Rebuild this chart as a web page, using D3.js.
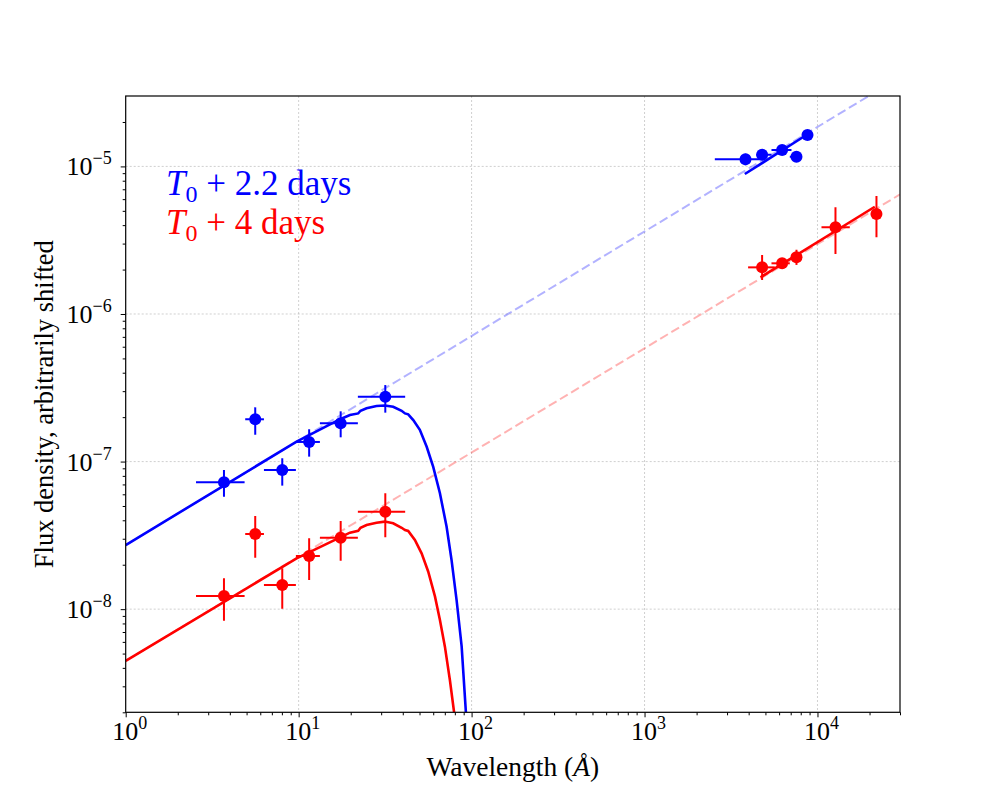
<!DOCTYPE html>
<html>
<head>
<meta charset="utf-8">
<script src="https://cdn.jsdelivr.net/npm/d3@7"></script>
<style>
  body { margin: 0; background: #fff; }
  text { font-family: "Liberation Serif", "DejaVu Serif", serif; fill: #000; }
</style>
</head>
<body>
<svg id="chart" width="1000" height="800"></svg>
<script>
// observed points, T0 + 2.2 days
const blueLam    = [3.70, 5.61, 8.04, 11.5, 17.5, 31.7, 3835, 4784, 6244, 7560, 8754];
const blueLamLo  = [2.55, 4.91, 6.30, 9.64, 13.27, 22.0, 2549, 4440, 5420, 6916, 8754];
const blueLamHi  = [4.87, 6.30, 9.64, 13.27, 22.0, 41.3, 4640, 5420, 7073, 7900, 8754];
const blueFlux   = [7.24e-8, 1.934e-7, 8.77e-8, 1.358e-7, 1.817e-7, 2.75e-7, 1.117e-5, 1.20e-5, 1.29e-5, 1.164e-5, 1.633e-5];
const blueFluxLo = [5.78e-8, 1.52e-7, 6.87e-8, 1.08e-7, 1.46e-7, 2.145e-7, 1.02e-5, 1.17e-5, 1.27e-5, 1.15e-5, 1.60e-5];
const blueFluxHi = [8.77e-8, 2.33e-7, 1.053e-7, 1.656e-7, 2.19e-7, 3.30e-7, 1.22e-5, 1.23e-5, 1.31e-5, 1.18e-5, 1.66e-5];

// observed points, T0 + 4 days
const redLam    = [3.70, 5.61, 8.04, 11.5, 17.5, 31.7, 4784, 6244, 7560, 12706, 21930];
const redLamLo  = [2.55, 4.91, 6.30, 9.64, 13.27, 22.0, 3970, 5420, 7300, 10546, 20520];
const redLamHi  = [4.87, 6.30, 9.64, 13.27, 22.0, 41.3, 5665, 6916, 7800, 15373, 23440];
const redFlux   = [1.229e-8, 3.23e-8, 1.459e-8, 2.29e-8, 3.05e-8, 4.575e-8, 2.07e-6, 2.205e-6, 2.42e-6, 3.87e-6, 4.76e-6];
const redFluxLo = [8.36e-9, 2.23e-8, 1.008e-8, 1.577e-8, 2.13e-8, 3.07e-8, 1.70e-6, 2.11e-6, 2.15e-6, 2.55e-6, 3.31e-6];
const redFluxHi = [1.62e-8, 4.28e-8, 1.89e-8, 3.02e-8, 3.96e-8, 6.10e-8, 2.51e-6, 2.30e-6, 2.72e-6, 5.28e-6, 6.30e-6];

// model curves (X-ray side)
const blueModelLam  = [1, 9.73, 17.5, 19.8, 22.1, 22.8, 24.7, 28.2, 31.5, 35.2, 39.4, 41.2, 43.0, 46.0, 50.2, 55.0, 60.0, 65.6, 71.7, 76.6, 81.9, 87.6, 92.7, 96.6];
const blueModelFlux = [2.72e-8, 1.365e-7, 1.945e-7, 2.07e-7, 2.12e-7, 2.21e-7, 2.30e-7, 2.38e-7, 2.40e-7, 2.35e-7, 2.21e-7, 2.12e-7, 2.09e-7, 1.91e-7, 1.64e-7, 1.26e-7, 9.2e-8, 6.1e-8, 3.62e-8, 2.15e-8, 1.15e-8, 5.6e-9, 2.0e-9, 8e-10];
const redModelLam  = [1, 9.73, 17.5, 19.8, 22.1, 22.8, 24.7, 28.2, 31.5, 35.2, 39.4, 41.2, 43.0, 47.0, 51.4, 56.1, 61.4, 65.6, 70.1, 74.9, 79.3, 82.2];
const redModelFlux = [4.46e-9, 2.21e-8, 3.08e-8, 3.30e-8, 3.40e-8, 3.56e-8, 3.72e-8, 3.85e-8, 3.92e-8, 3.82e-8, 3.56e-8, 3.44e-8, 3.39e-8, 2.94e-8, 2.39e-8, 1.80e-8, 1.22e-8, 8.45e-9, 5.57e-9, 3.31e-9, 1.98e-9, 1.0e-9];

// model curves (optical side)
const blueOptLam  = [3800, 8446];
const blueOptFlux = [8.88e-6, 1.607e-5];
const redOptLam   = [4684, 21450];
const redOptFlux  = [1.773e-6, 5.33e-6];

// power-law extrapolations (dashed)
const blueDashLam  = [1, 3e4];
const blueDashFlux = [2.72e-8, 4.03e-5];
const redDashLam   = [1, 3e4];
const redDashFlux  = [4.46e-9, 6.46e-6];

const xMajor = [1, 10, 100, 1000, 10000];
const xMajorExp = ['0', '1', '2', '3', '4'];
const yMajor = [1e-8, 1e-7, 1e-6, 1e-5];
const yMajorExp = ['\u22128', '\u22127', '\u22126', '\u22125'];

const svg = d3.select('#chart');
const plotLeft = 125.7, plotRight = 900, plotTop = 96, plotBottom = 712.3;

const x = d3.scaleLog().domain([1, 3e4]).range([plotLeft, plotRight]);
const y = d3.scaleLog().domain([2e-9, 3e-5]).range([plotBottom, plotTop]);

svg.append('defs').append('clipPath').attr('id', 'plotclip')
    .append('rect')
    .attr('x', plotLeft).attr('y', plotTop)
    .attr('width', plotRight - plotLeft).attr('height', plotBottom - plotTop);

// grid
const grid = svg.append('g');
grid.selectAll('.gx').data(xMajor.slice(1)).enter().append('line')
    .attr('x1', d => x(d)).attr('x2', d => x(d))
    .attr('y1', plotTop).attr('y2', plotBottom)
    .attr('stroke', '#b0b0b0').attr('stroke-width', 0.6).attr('stroke-dasharray', '2,2');
grid.selectAll('.gy').data(yMajor).enter().append('line')
    .attr('x1', plotLeft).attr('x2', plotRight)
    .attr('y1', d => y(d)).attr('y2', d => y(d))
    .attr('stroke', '#b0b0b0').attr('stroke-width', 0.6).attr('stroke-dasharray', '2,2');

const plot = svg.append('g').attr('clip-path', 'url(#plotclip)');
const line = d3.line().x(d => x(d[0])).y(d => y(d[1]));

function drawLine(lam, flux, color, opts) {
    plot.append('path')
        .datum(d3.zip(lam, flux))
        .attr('d', line)
        .attr('fill', 'none')
        .attr('stroke', color)
        .attr('stroke-width', opts.width)
        .attr('stroke-opacity', opts.opacity)
        .attr('stroke-dasharray', opts.dash);
}

drawLine(blueDashLam, blueDashFlux, '#0000ff', {width: 2, opacity: 0.3, dash: '9,4'});
drawLine(redDashLam, redDashFlux, '#ff0000', {width: 2, opacity: 0.3, dash: '9,4'});
drawLine(blueModelLam, blueModelFlux, '#0000ff', {width: 2.6, opacity: 1, dash: null});
drawLine(redModelLam, redModelFlux, '#ff0000', {width: 2.6, opacity: 1, dash: null});
drawLine(blueOptLam, blueOptFlux, '#0000ff', {width: 2.6, opacity: 1, dash: null});
drawLine(redOptLam, redOptFlux, '#ff0000', {width: 2.6, opacity: 1, dash: null});

function drawPoints(lam, lamLo, lamHi, flux, fluxLo, fluxHi, color) {
    const pts = lam.map((l, i) => ({l, lo: lamLo[i], hi: lamHi[i], f: flux[i], flo: fluxLo[i], fhi: fluxHi[i]}));
    const g = plot.append('g');
    g.selectAll('.ex').data(pts).enter().append('line')
        .attr('x1', d => x(d.lo)).attr('x2', d => x(d.hi))
        .attr('y1', d => y(d.f)).attr('y2', d => y(d.f))
        .attr('stroke', color).attr('stroke-width', 2);
    g.selectAll('.ey').data(pts).enter().append('line')
        .attr('x1', d => x(d.l)).attr('x2', d => x(d.l))
        .attr('y1', d => y(d.flo)).attr('y2', d => y(d.fhi))
        .attr('stroke', color).attr('stroke-width', 2);
    g.selectAll('.pt').data(pts).enter().append('circle')
        .attr('cx', d => x(d.l)).attr('cy', d => y(d.f))
        .attr('r', 6).attr('fill', color);
}

drawPoints(blueLam, blueLamLo, blueLamHi, blueFlux, blueFluxLo, blueFluxHi, '#0000ff');
drawPoints(redLam, redLamLo, redLamHi, redFlux, redFluxLo, redFluxHi, '#ff0000');

// axes
const minorX = [];
for (let p = 0; p <= 4; p++) for (let m = 2; m <= 9; m++) {
    const v = m * Math.pow(10, p);
    if (v <= 3e4) minorX.push(v);
}
const minorY = [];
for (let p = -9; p <= -5; p++) for (let m = 2; m <= 9; m++) {
    const v = m * Math.pow(10, p);
    if (v >= 2e-9 && v <= 3e-5) minorY.push(v);
}

svg.append('g').attr('transform', `translate(0,${plotBottom})`)
    .call(d3.axisBottom(x).tickValues(xMajor).tickSize(5).tickFormat(''))
    .call(g => g.select('.domain').remove());
svg.append('g').attr('transform', `translate(0,${plotBottom})`)
    .call(d3.axisBottom(x).tickValues(minorX).tickSize(3).tickFormat(''))
    .call(g => g.select('.domain').remove());
svg.append('g').attr('transform', `translate(${plotLeft},0)`)
    .call(d3.axisLeft(y).tickValues(yMajor).tickSize(5).tickFormat(''))
    .call(g => g.select('.domain').remove());
svg.append('g').attr('transform', `translate(${plotLeft},0)`)
    .call(d3.axisLeft(y).tickValues(minorY).tickSize(3).tickFormat(''))
    .call(g => g.select('.domain').remove());

svg.append('rect')
    .attr('x', plotLeft).attr('y', plotTop)
    .attr('width', plotRight - plotLeft).attr('height', plotBottom - plotTop)
    .attr('fill', 'none').attr('stroke', '#000').attr('stroke-width', 1.2);

// tick labels
const xl = svg.append('g').selectAll('text').data(xMajor).enter().append('text')
    .attr('x', d => x(d) + 4).attr('y', plotBottom + 28)
    .attr('text-anchor', 'middle').attr('font-size', 26);
xl.append('tspan').text('10');
xl.append('tspan').attr('dy', -11).attr('font-size', 18).text((d, i) => xMajorExp[i]);

const yl = svg.append('g').selectAll('text').data(yMajor).enter().append('text')
    .attr('x', plotLeft - 14).attr('y', d => y(d) + 9)
    .attr('text-anchor', 'end').attr('font-size', 26);
yl.append('tspan').text('10');
yl.append('tspan').attr('dy', -11).attr('font-size', 18).text((d, i) => yMajorExp[i]);

// axis labels
const xLabel = svg.append('text')
    .attr('x', (plotLeft + plotRight) / 2).attr('y', 776)
    .attr('text-anchor', 'middle').attr('font-size', 27.5);
xLabel.append('tspan').text('Wavelength (');
xLabel.append('tspan').attr('font-style', 'italic').text('\u00C5');
xLabel.append('tspan').text(')');
svg.append('text')
    .attr('transform', `translate(53,${(plotTop + plotBottom) / 2}) rotate(-90)`)
    .attr('text-anchor', 'middle').attr('font-size', 26.5)
    .text('Flux density, arbitrarily shifted');

// legend text
const legendRows = [
    {label: ' + 2.2 days', color: '#0000ff', y: 195},
    {label: ' + 4 days', color: '#ff0000', y: 234}
];
const lg = svg.append('g').selectAll('text').data(legendRows).enter().append('text')
    .attr('x', 166).attr('y', d => d.y)
    .attr('font-size', 35)
    .style('fill', d => d.color);
lg.append('tspan').attr('font-style', 'italic').text('T');
lg.append('tspan').attr('font-size', 24).attr('dy', 7).text('0');
lg.append('tspan').attr('dy', -7).text(d => d.label);
</script>
</body>
</html>
